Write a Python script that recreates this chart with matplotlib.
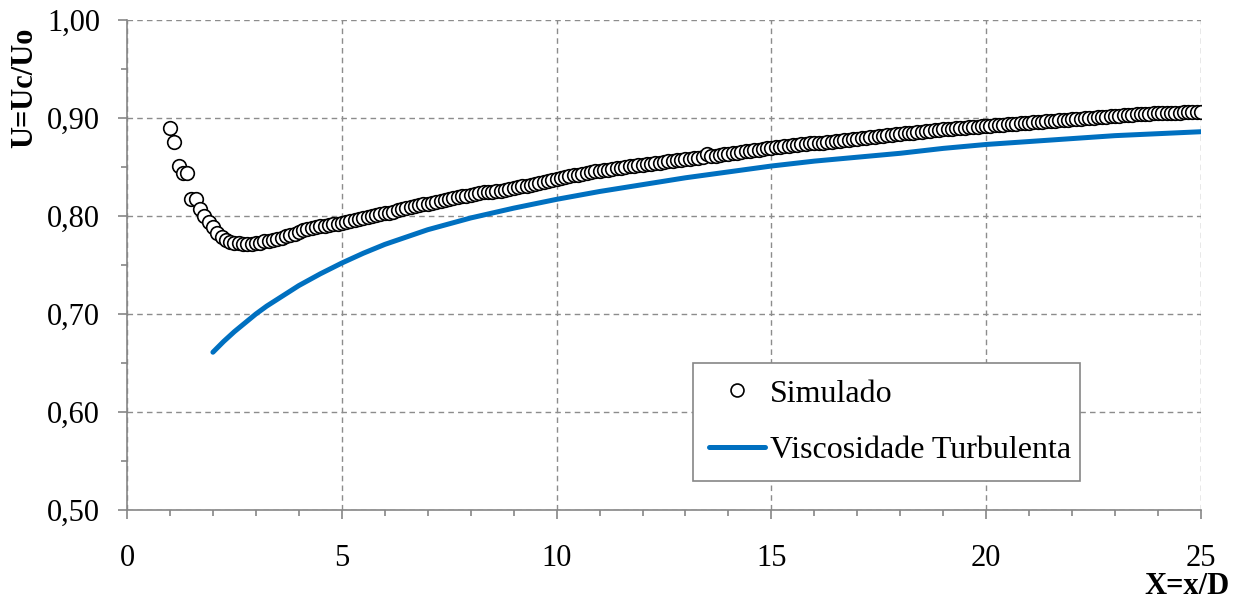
import numpy as np
import matplotlib.pyplot as plt
from matplotlib.ticker import MultipleLocator, FuncFormatter

plt.rcParams['font.family'] = ['Liberation Serif', 'DejaVu Serif']

# Simulado: U na linha de centro, X = 1.0 ... 25.0 (passo 0.1)
x_sim = np.round(np.arange(10, 251) / 10.0, 1)
u_sim = [
    0.890, 0.876, 0.851, 0.844, 0.844, 0.817, 0.817, 0.807, 0.800, 0.794,
    0.789, 0.783, 0.779, 0.776, 0.773, 0.772, 0.772, 0.771, 0.771, 0.771,
    0.772, 0.772, 0.774, 0.775, 0.776, 0.777, 0.778, 0.780, 0.781, 0.782,
    0.784, 0.786, 0.787, 0.788, 0.789, 0.790, 0.790, 0.791, 0.792, 0.792,
    0.793, 0.794, 0.795, 0.796, 0.797, 0.798, 0.799, 0.800, 0.801, 0.802,
    0.803, 0.803, 0.804, 0.806, 0.807, 0.808, 0.809, 0.810, 0.811, 0.812,
    0.812, 0.813, 0.814, 0.815, 0.816, 0.817, 0.818, 0.819, 0.820, 0.820,
    0.821, 0.822, 0.823, 0.824, 0.824, 0.825, 0.826, 0.826, 0.827, 0.828,
    0.829, 0.830, 0.831, 0.831, 0.832, 0.833, 0.834, 0.835, 0.836, 0.837,
    0.838, 0.839, 0.840, 0.841, 0.842, 0.842, 0.843, 0.844, 0.845, 0.846,
    0.846, 0.847, 0.847, 0.848, 0.849, 0.849, 0.850, 0.851, 0.851, 0.852,
    0.852, 0.853, 0.853, 0.854, 0.854, 0.855, 0.856, 0.856, 0.857, 0.857,
    0.858, 0.858, 0.859, 0.859, 0.860, 0.863, 0.861, 0.861, 0.862, 0.863,
    0.863, 0.864, 0.864, 0.865, 0.866, 0.866, 0.867, 0.867, 0.868, 0.869,
    0.869, 0.870, 0.870, 0.871, 0.871, 0.872, 0.872, 0.873, 0.873, 0.874,
    0.874, 0.875, 0.875, 0.876, 0.876, 0.877, 0.877, 0.878, 0.878, 0.879,
    0.879, 0.880, 0.880, 0.881, 0.881, 0.882, 0.882, 0.883, 0.883, 0.884,
    0.884, 0.885, 0.885, 0.885, 0.886, 0.886, 0.887, 0.887, 0.888, 0.888,
    0.889, 0.889, 0.889, 0.890, 0.890, 0.890, 0.891, 0.891, 0.891, 0.892,
    0.892, 0.892, 0.893, 0.893, 0.893, 0.894, 0.894, 0.894, 0.895, 0.895,
    0.895, 0.896, 0.896, 0.896, 0.897, 0.897, 0.897, 0.898, 0.898, 0.898,
    0.899, 0.899, 0.899, 0.900, 0.900, 0.900, 0.901, 0.901, 0.901, 0.902,
    0.902, 0.902, 0.903, 0.903, 0.903, 0.904, 0.904, 0.904, 0.904, 0.905,
    0.905, 0.905, 0.905, 0.905, 0.905, 0.905, 0.906, 0.906, 0.906, 0.906,
    0.906,
]

# Viscosidade turbulenta (curva teorica)
x_vt = [2.0, 2.25, 2.5, 2.75, 3.0, 3.25, 3.5, 3.75, 4.0, 4.5, 5.0, 5.5, 6.0, 7.0,
        8.0, 9.0, 10.0, 11.0, 12.0, 13.0, 14.0, 15.0, 16.0, 17.0, 18.0, 19.0,
        20.0, 21.0, 22.0, 23.0, 24.0, 25.0]
u_vt = [0.661, 0.672, 0.682, 0.691, 0.700, 0.708, 0.715, 0.722, 0.729, 0.741,
        0.752, 0.762, 0.771, 0.786, 0.798, 0.808, 0.817, 0.825, 0.832, 0.839,
        0.845, 0.851, 0.856, 0.860, 0.864, 0.869, 0.873, 0.876, 0.879, 0.882,
        0.884, 0.886]

W, H = 1242, 603
fig = plt.figure(figsize=(W / 100, H / 100), dpi=100)
ax = fig.add_axes([127 / W, 1 - 510 / H, (1201 - 127) / W, (510 - 20) / H])

cinza = '#868686'
ax.plot(x_vt, u_vt, color='#0070C0', lw=3.6, solid_capstyle='round',
        label='Viscosidade Turbulenta', zorder=2)
ax.plot(x_sim, u_sim, 'o', ms=9.8, mfc='white', mec='black', mew=1.2,
        label='Simulado', zorder=3)

ax.set_xlim(0, 25)
ax.set_ylim(0.5, 1.0)
ax.xaxis.set_major_locator(MultipleLocator(5))
ax.xaxis.set_minor_locator(MultipleLocator(1))
ax.yaxis.set_major_locator(MultipleLocator(0.1))
ax.yaxis.set_minor_locator(MultipleLocator(0.05))
ax.yaxis.set_major_formatter(FuncFormatter(lambda v, p: f'{v:.2f}'.replace('.', ',')))

ax.grid(True, which='major', color='#8c8c8c', ls=(0, (4, 3)), lw=1.0)
ax.set_axisbelow(True)
for s in ['top', 'right']:
    ax.spines[s].set_visible(False)
for s in ['left', 'bottom']:
    ax.spines[s].set_color(cinza)
    ax.spines[s].set_linewidth(1.2)

ax.tick_params(which='major', direction='out', length=6.5, width=1.2, color=cinza,
               labelsize=22)
ax.tick_params(which='minor', direction='out', length=4.5, width=1.2, color=cinza)
ax.tick_params(axis='x', which='major', pad=18)
ax.tick_params(axis='y', which='major', pad=13)

fig.text(25 / W, 1 - 28 / H, 'U=Uc/Uo', rotation=90, ha='center', va='top',
         fontsize=22, fontweight='bold')
fig.text(1230 / W, 1 - 587 / H, 'X=x/D', ha='right', va='center',
         fontsize=22, fontweight='bold')

handles, labels = ax.get_legend_handles_labels()
leg = ax.legend(handles[::-1], labels[::-1], loc='lower left',
                bbox_to_anchor=(0.527, 0.059, 0.36, 0.245), mode='expand',
                fontsize=23, frameon=True, fancybox=False, edgecolor=cinza,
                framealpha=1.0, markerscale=0.95, handlelength=1.75,
                handletextpad=0.15, labelspacing=0.85, borderpad=0.5,
                borderaxespad=0)
leg.get_frame().set_linewidth(1.2)

fig.savefig('out.png', dpi=100)
